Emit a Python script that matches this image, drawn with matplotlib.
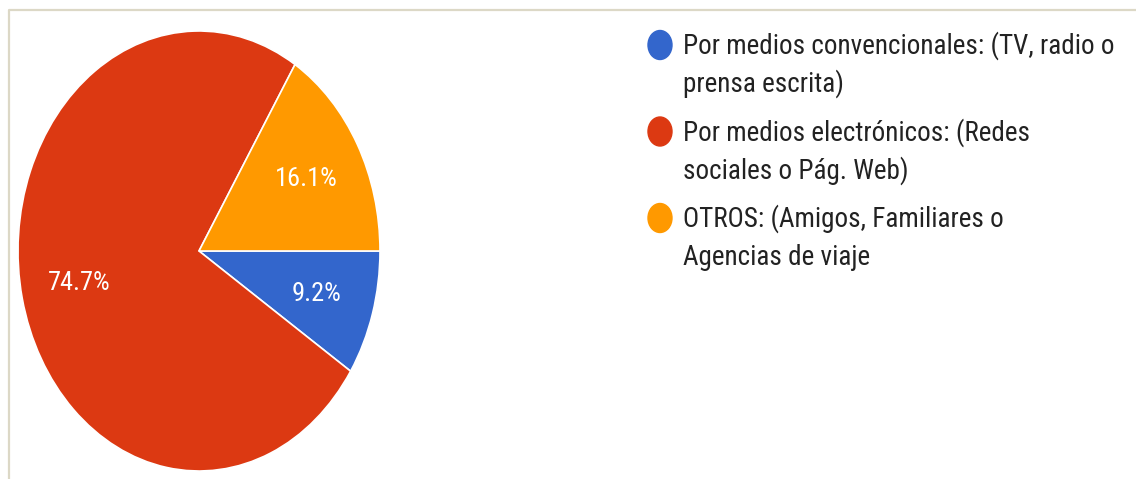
import matplotlib.pyplot as plt
from matplotlib.patches import Ellipse

# data
labels = ['Por medios convencionales: (TV, radio o\nprensa escrita)',
          'Por medios electrónicos: (Redes\nsociales o Pág. Web)',
          'OTROS: (Amigos, Familiares o\nAgencias de viaje']
shares = [9.2, 74.7, 16.1]
colors = ['#3366cc', '#dc3912', '#ff9900']

W, H = 1136, 479
plt.rcParams['font.family'] = ['Roboto Condensed', 'Liberation Sans', 'DejaVu Sans']

fig = plt.figure(figsize=(W / 100, H / 100), dpi=100)

# overlay in pixel coords for border + legend
ov = fig.add_axes([0, 0, 1, 1])
ov.set_xlim(0, W)
ov.set_ylim(H, 0)
ov.axis('off')
ov.plot([8.5, 8.5, W], [H, 9.5, 9.5], color='#dcd8c6', lw=1.6, solid_capstyle='butt')

# the pie is stretched vertically in the reference, so use auto aspect
cx, cy, rx, ry = 199, 251, 181, 220
ax = fig.add_axes([(cx - rx) / W, (H - cy - ry) / H, 2 * rx / W, 2 * ry / H])
wedges, _, pct = ax.pie(shares, colors=colors, startangle=0, counterclock=False,
                        autopct='%.1f%%', pctdistance=0.68,
                        wedgeprops=dict(edgecolor='white', linewidth=1.2),
                        textprops=dict(color='white', fontsize=19))
ax.set_aspect('auto')
ax.set_xlim(-1, 1)
ax.set_ylim(-1, 1)
ax.axis('off')

# legend
y0, row_gap, line_gap = 54, 86.5, 38
for i, (lab, c) in enumerate(zip(labels, colors)):
    yb = y0 + i * row_gap
    ov.add_patch(Ellipse((660, yb - 9), 24, 29, color=c, zorder=3))
    for j, line in enumerate(lab.split('\n')):
        ov.text(683, yb + j * line_gap, line, fontsize=19.5, color='#222222',
                va='baseline', ha='left')

fig.savefig('out.png', dpi=100)
